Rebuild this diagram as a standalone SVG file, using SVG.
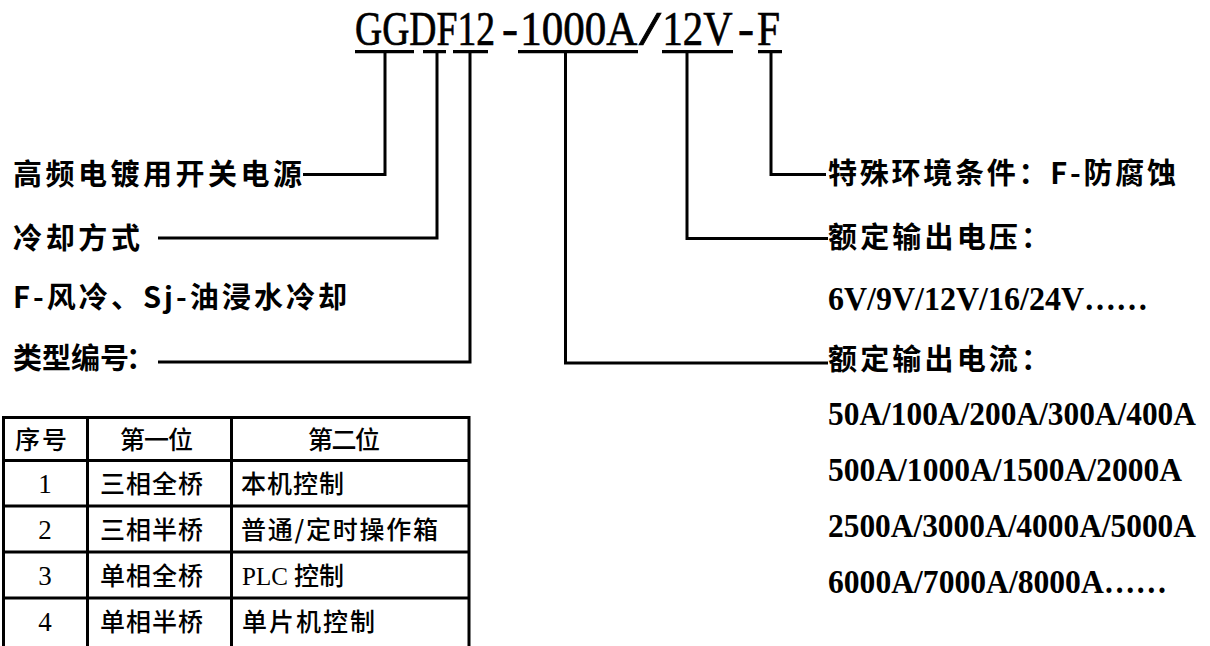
<svg xmlns="http://www.w3.org/2000/svg" width="1210" height="646" viewBox="0 0 1210 646">
<style>
.title{font-family:"Liberation Serif","Times New Roman",serif;font-size:48px;fill:#000;stroke:#000;stroke-width:0.7}
.lb{font-family:"Noto Sans CJK SC","Noto Sans CJK TC",sans-serif;font-weight:700;font-size:29px;fill:#000}
.num{font-family:"Liberation Serif","Times New Roman",serif;font-weight:700;font-size:34px;fill:#000}
.tb{font-family:"Noto Sans CJK SC","Noto Sans CJK TC",sans-serif;font-size:25px;font-weight:500;fill:#000}
.tn{font-family:"Liberation Serif","Times New Roman",serif;font-size:27px;fill:#000}
.ln{fill:none;stroke:#000;stroke-width:3;stroke-linejoin:miter;stroke-linecap:butt}
.ul{fill:none;stroke:#000;stroke-width:3.3}
</style>
<rect width="1210" height="646" fill="#fff"/>
<g id="title">
<text class="title" x="355" y="45" textLength="140" lengthAdjust="spacingAndGlyphs">GGDF12</text>
<text class="title" x="502" y="45">-</text>
<text class="title" x="520.2" y="45" textLength="117" lengthAdjust="spacingAndGlyphs">1000A</text>
<text class="title" x="639" y="45" textLength="22" lengthAdjust="spacingAndGlyphs">/</text>
<text class="title" x="662.5" y="45" textLength="70" lengthAdjust="spacingAndGlyphs">12V</text>
<text class="title" x="738" y="45">-</text>
<text class="title" x="757" y="45" textLength="23" lengthAdjust="spacingAndGlyphs">F</text>
<path class="ul" d="M355 51.7H414M423 51.7H446M453 51.7H488M518 51.7H638M662 51.7H733M758 51.7H782"/>
</g>
<g id="connectors">
<path class="ln" d="M385 52V174.5H303"/>
<path class="ln" d="M437 52V238H158"/>
<path class="ln" d="M470 52V362H158"/>
<path class="ln" d="M565.5 52V363H828"/>
<path class="ln" d="M687 52V238.5H828"/>
<path class="ln" d="M771 52V174.5H826"/>
</g>
<g id="label-power">
<text class="lb" x="13" y="184.5" textLength="289">高频电镀用开关电源</text>
</g>
<g id="label-cooling">
<text class="lb" x="13" y="248.5" textLength="127">冷却方式</text>
<text class="lb" x="13" y="308" textLength="334">F-风冷、Sj-油浸水冷却</text>
</g>
<g id="label-type">
<text class="lb" x="13" y="369"><tspan textLength="116">类型编号</tspan><tspan x="126">：</tspan></text>
</g>
<g id="label-env">
<text class="lb" x="828" y="184" textLength="348">特殊环境条件：F-防腐蚀</text>
</g>
<g id="label-voltage">
<text class="lb" x="828" y="248" textLength="222">额定输出电压：</text>
<text class="num" x="828" y="310" textLength="320" lengthAdjust="spacingAndGlyphs">6V/9V/12V/16/24V……</text>
</g>
<g id="label-current">
<text class="lb" x="828" y="370" textLength="222">额定输出电流：</text>
<text class="num" x="828" y="425" textLength="368" lengthAdjust="spacingAndGlyphs">50A/100A/200A/300A/400A</text>
<text class="num" x="828" y="481" textLength="354" lengthAdjust="spacingAndGlyphs">500A/1000A/1500A/2000A</text>
<text class="num" x="828" y="537" textLength="368" lengthAdjust="spacingAndGlyphs">2500A/3000A/4000A/5000A</text>
<text class="num" x="828" y="593" textLength="339" lengthAdjust="spacingAndGlyphs">6000A/7000A/8000A……</text>
</g>
<g id="table">
<path class="ln" d="M3.5 650V417.5H469V650M87.5 417.5V650M231.5 417.5V650M3.5 460.5H469M3.5 506H469M3.5 552H469M3.5 598H469"/>
<text class="tb" x="15" y="448.5" textLength="52">序号</text>
<text class="tb" x="120" y="448.5" textLength="73">第一位</text>
<text class="tb" x="308" y="448.5" textLength="72">第二位</text>
<text class="tn" x="45" y="493" text-anchor="middle">1</text>
<text class="tn" x="45" y="539" text-anchor="middle">2</text>
<text class="tn" x="45" y="585" text-anchor="middle">3</text>
<text class="tn" x="45" y="631" text-anchor="middle">4</text>
<text class="tb" x="100" y="492.5" textLength="103">三相全桥</text>
<text class="tb" x="100" y="538.5" textLength="103">三相半桥</text>
<text class="tb" x="100" y="584.5" textLength="103">单相全桥</text>
<text class="tb" x="100" y="630.5" textLength="103">单相半桥</text>
<text class="tb" x="241" y="492.5" textLength="103">本机控制</text>
<text class="tb" x="241" y="538.5" textLength="197">普通/定时操作箱</text>
<text class="tb" x="242" y="584.5"><tspan font-family="Liberation Serif, serif" font-weight="400">PLC </tspan>控制</text>
<text class="tb" x="242" y="630.5" textLength="133">单片机控制</text>
</g>
</svg>
